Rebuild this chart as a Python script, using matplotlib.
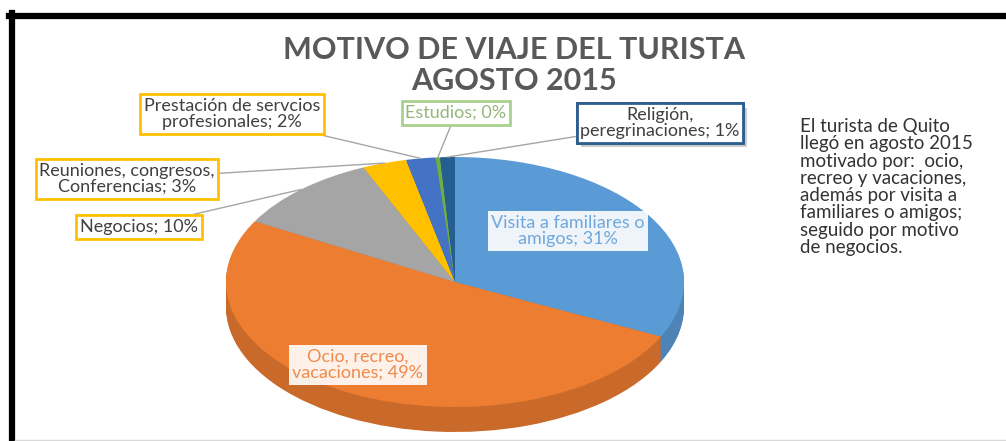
import matplotlib
matplotlib.use("Agg")
import matplotlib.pyplot as plt
import matplotlib.patheffects as pe
import numpy as np
from matplotlib.lines import Line2D

# --- Data ---
categories = ["Visita a familiares o\namigos", "Ocio, recreo,\nvacaciones", "Negocios",
              "Reuniones, congresos,\nConferencias", "Prestación de servcios\nprofesionales",
              "Estudios", "Religión,\nperegrinaciones"]
percent_labels = [31, 49, 10, 3, 2, 0, 1]
values = [31, 49, 10, 3, 2, 0.3, 1]
colors = ["#5B9BD5", "#ED7D31", "#A5A5A5", "#FFC000", "#4472C4", "#70AD47", "#255E91"]

title_lines = ["MOTIVO DE VIAJE DEL TURISTA", "AGOSTO 2015"]
note_text = ("El turista de Quito\nllegó en agosto 2015\nmotivado por:  ocio,\n"
             "recreo y vacaciones,\nademás por visita a\nfamiliares o amigos;\n"
             "seguido por motivo\nde negocios.")

W, H = 1006, 441
FONT = "Lato"


def darker(c, f):
    r, g, b = matplotlib.colors.to_rgb(c)
    return (r * f, g * f, b * f)


fig = plt.figure(figsize=(W / 100, H / 100), dpi=100)
fig.patch.set_facecolor("white")

# pie axes: top ellipse spans x 226..684, y 157..405 px, side depth ~25 px
depth = 0.20
ax = fig.add_axes([226 / W, (H - 432) / H, 458 / W, 275 / H])
ax.axis("off")

# side wall: stacked, darker copies of the pie
n_layers = 24
for k in range(n_layers, 0, -1):
    ax.pie(values, colors=[darker(c, 0.85) for c in colors], startangle=90,
           counterclock=False, radius=1, center=(0, -depth * k / n_layers),
           wedgeprops=dict(linewidth=0))

wedges, _ = ax.pie(values, colors=colors, startangle=90, counterclock=False,
                   radius=1, center=(0, 0), wedgeprops=dict(linewidth=0))
ax.set_aspect("auto")
ax.set_xlim(-1, 1)
ax.set_ylim(-1 - depth, 1)


def rim_point(w, r=1.0):
    a = np.deg2rad((w.theta1 + w.theta2) / 2)
    return r * np.cos(a), r * np.sin(a)


# --- Title ---
fig.text(514 / W, 1 - 50 / H, title_lines[0], ha="center", va="center",
         fontsize=22, color="#595959", family=FONT, weight="bold")
fig.text(514 / W, 1 - 81 / H, title_lines[1], ha="center", va="center",
         fontsize=22, color="#595959", family=FONT, weight="bold")

# --- Labels with leader lines ---
# (index, box centre in px from top-left, edge colour, text colour)
callouts = [
    (4, (232, 114), "#FFC000", "#404040"),
    (5, (456, 113), "#A9D18E", "#93B67A"),
    (6, (660, 123), "#2E5E8E", "#404040"),
    (3, (127, 179), "#FFC000", "#404040"),
    (2, (139, 227), "#FFC000", "#404040"),
]
for i, (px, py), ec, tc in callouts:
    label = f"{categories[i]}; {percent_labels[i]}%"
    ann = ax.annotate(label, xy=rim_point(wedges[i]), xycoords="data",
                      xytext=(px, H - py), textcoords="figure pixels",
                      ha="center", va="center", multialignment="center",
                      fontsize=13, color=tc, family=FONT, linespacing=1.0,
                      bbox=dict(boxstyle="square,pad=0.2", fc="white", ec=ec, lw=2),
                      arrowprops=dict(arrowstyle="-", color="#A6A6A6", lw=1,
                                      shrinkA=0, shrinkB=0),
                      annotation_clip=False)
    if i == 6:
        # soft drop shadow behind the Religión box
        ann.get_bbox_patch().set_path_effects(
            [pe.withSimplePatchShadow(offset=(3, -3), shadow_rgbFace="#999999", alpha=0.5),
             pe.Normal()])

# in-slice labels
inside = [(0, (568, 231), "#6FA8DC"), (1, (358, 365), "#F08B4C")]
for i, (px, py), tc in inside:
    fig.text(px / W, 1 - py / H, f"{categories[i]}; {percent_labels[i]}%",
             ha="center", va="center", multialignment="center",
             fontsize=13, color=tc, family=FONT, linespacing=1.0,
             bbox=dict(boxstyle="square,pad=0.2", fc="white", ec="none", alpha=0.9))

# --- Side note ---
fig.text(800 / W, 1 - 118 / H, note_text, ha="left", va="top", fontsize=13.5,
         color="#333333", family=FONT, linespacing=1.02)

# --- Frame (top and left black bars, thin grey bottom line) ---
fig.add_artist(Line2D([9 / W, 1], [1 - 16 / H, 1 - 16 / H], color="black", lw=4.5,
                      transform=fig.transFigure))
fig.add_artist(Line2D([12 / W, 12 / W], [0, 1 - 13 / H], color="black", lw=4.5,
                      transform=fig.transFigure))
fig.add_artist(Line2D([15 / W, 1], [1.5 / H, 1.5 / H], color="#D9D9D9", lw=1,
                      transform=fig.transFigure))

fig.savefig("out.png", dpi=100)
